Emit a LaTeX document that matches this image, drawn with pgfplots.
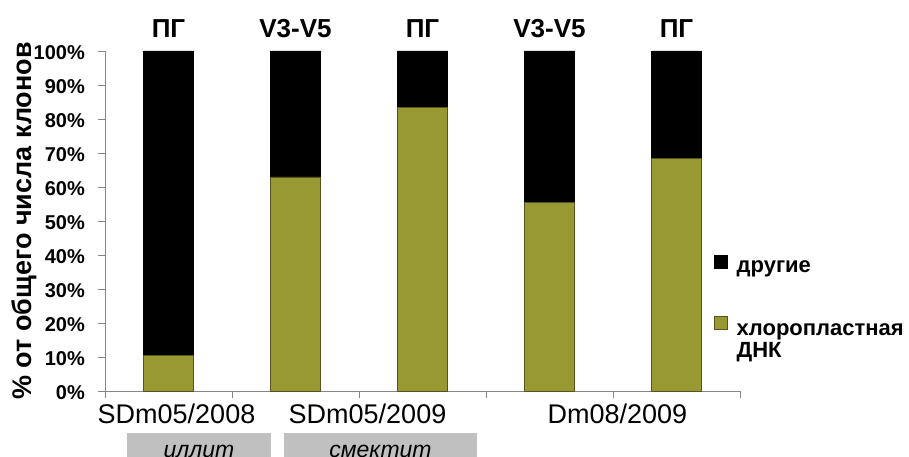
\documentclass[border=0pt]{standalone}
\usepackage{fontspec}
\setmainfont{Liberation Sans}
\usepackage{pgfplots}
\pgfplotsset{compat=1.18}
\definecolor{olivebar}{RGB}{153,153,51}
\definecolor{axisgray}{RGB}{134,134,134}
\definecolor{boxgray}{RGB}{192,192,192}

\begin{document}
\begin{tikzpicture}[x=1pt,y=1pt]
\path[use as bounding box] (0,0) rectangle (909,457);
\begin{axis}[
    at={(105pt,66pt)}, anchor=south west,
    scale only axis, width=635pt, height=340pt,
    ybar stacked, bar width=50pt,
    xmin=-0.5, xmax=4.5, ymin=0, ymax=100,
    axis x line=bottom, axis y line=left,
    axis line style={draw=axisgray, line width=0.8pt, -},
    xtick={-0.5,0.5,...,4.5}, xticklabels={},
    ytick={0,10,...,100},
    yticklabel={\pgfmathprintnumber{\tick}\%},
    /pgf/number format/assume math mode=true,
    tick style={draw=axisgray, line width=0.8pt},
    tick align=outside, major tick length=7pt,
    yticklabel style={font=\bfseries\fontsize{20}{24}\selectfont, inner xsep=0pt, xshift=-13pt, yshift=-2pt},
    ylabel={\% от общего числа клонов},
    every axis y label/.style={at={(rel axis cs:-0.1276,0.5)}, rotate=90, anchor=center,
        font=\bfseries\fontsize{27}{30}\selectfont},
    clip=false,
    reverse legend,
    legend style={at={(rel axis cs:0.959,0.40)}, anchor=north west, draw=none, fill=none,
        font=\bfseries\fontsize{22}{22}\selectfont, row sep=40pt, column sep=7pt, inner sep=0pt,
        cells={anchor=west}},
    legend image code/.code={\draw[#1] (0pt,-1pt) rectangle (13pt,12pt);},
]
\addplot[fill=olivebar, draw=olivebar!55!black, line width=0.5pt]
    coordinates {(0,10.5) (1,63) (2,83.5) (3,55.4) (4,68.4)};
\addlegendentry{{\begin{tabular}[t]{@{}l@{}}хлоропластная\\ДНК\end{tabular}}}
\addplot[fill=black, draw=black, line width=0.5pt]
    coordinates {(0,89.5) (1,37) (2,16.5) (3,44.6) (4,31.6)};
\addlegendentry{другие}

% labels above the bars
\foreach \i/\t in {0/ПГ,1/V3-V5,2/ПГ,3/V3-V5,4/ПГ}{
    \edef\tmp{\noexpand\node[anchor=base, yshift=13pt, font=\noexpand\bfseries\noexpand\fontsize{26}{30}\noexpand\selectfont] at (axis cs:\i,100) {\t};}
    \tmp
}
% sample names
\node[anchor=base, yshift=-33pt, font=\fontsize{27}{30}\selectfont] at (axis cs:0.063,0) {SDm05/2008};
\node[anchor=base, yshift=-33pt, font=\fontsize{27}{30}\selectfont] at (axis cs:1.567,0) {SDm05/2009};
\node[anchor=base, yshift=-33pt, font=\fontsize{27}{30}\selectfont] at (axis cs:3.535,0) {Dm08/2009};
\end{axis}

% mineral boxes
\fill[boxgray] (127,-5) rectangle (271,24);
\fill[boxgray] (284,-5) rectangle (477,24);
\node[anchor=base, font=\itshape\fontsize{23}{26}\selectfont] at (199,-1) {иллит};
\node[anchor=base, font=\itshape\fontsize{23}{26}\selectfont] at (380.5,-1) {смектит};
\end{tikzpicture}
\end{document}
